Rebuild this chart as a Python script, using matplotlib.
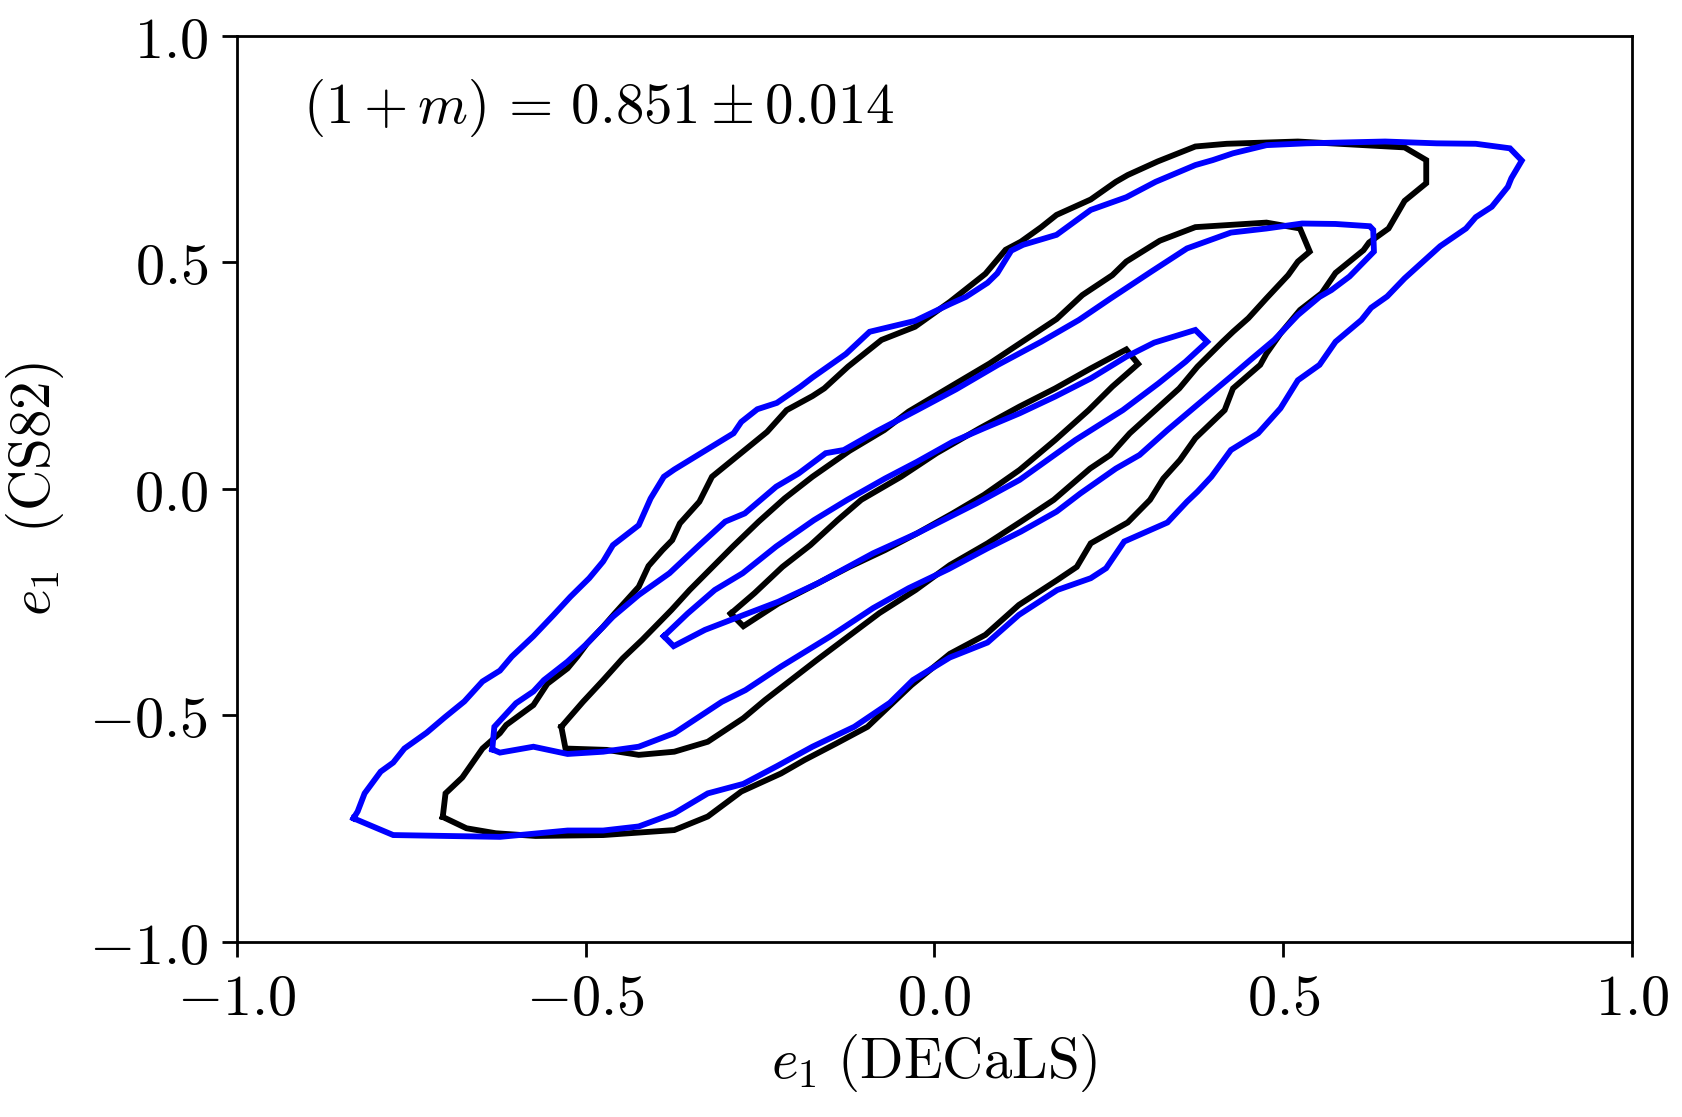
import matplotlib
matplotlib.use("Agg")
import matplotlib.pyplot as plt
from matplotlib.ticker import FuncFormatter
import numpy as np

plt.rcParams['mathtext.fontset'] = 'cm'
plt.rcParams['font.family'] = ['DejaVu Serif']

# ---- contour lines (e1 DECaLS, e1 CS82) ----
black_outer_x = [-0.705, -0.701, -0.677, -0.648, -0.623, -0.614, -0.575, -0.555, -0.526, -0.512, -0.498, -0.475,
                 -0.458, -0.424, -0.410, -0.390, -0.376, -0.365, -0.337, -0.319, -0.240, -0.212, -0.175, -0.158,
                 -0.124, -0.076, -0.028, 0.022, 0.073, 0.102, 0.124, 0.153, 0.175, 0.224, 0.260, 0.277, 0.320,
                 0.374, 0.419, 0.521, 0.674, 0.705, 0.705, 0.674, 0.651, 0.623, 0.615, 0.575, 0.555, 0.524,
                 0.496, 0.476, 0.467, 0.428, 0.416, 0.374, 0.352, 0.328, 0.309, 0.277, 0.224, 0.204, 0.175,
                 0.121, 0.073, 0.022, -0.033, -0.096, -0.141, -0.186, -0.220, -0.277, -0.325, -0.373, -0.475,
                 -0.572, -0.629, -0.671, -0.705]
black_outer_y = [-0.724, -0.672, -0.637, -0.573, -0.539, -0.521, -0.477, -0.430, -0.396, -0.370, -0.341, -0.304,
                 -0.274, -0.216, -0.170, -0.135, -0.113, -0.076, -0.028, 0.027, 0.126, 0.174, 0.205, 0.222,
                 0.270, 0.329, 0.358, 0.413, 0.475, 0.528, 0.546, 0.578, 0.605, 0.639, 0.678, 0.693, 0.723,
                 0.756, 0.762, 0.767, 0.754, 0.726, 0.675, 0.636, 0.575, 0.544, 0.527, 0.477, 0.432, 0.395,
                 0.343, 0.299, 0.274, 0.222, 0.174, 0.112, 0.064, 0.023, -0.024, -0.074, -0.120, -0.172, -0.202,
                 -0.256, -0.322, -0.364, -0.433, -0.525, -0.562, -0.598, -0.628, -0.668, -0.723, -0.753, -0.764,
                 -0.766, -0.760, -0.749, -0.724]

black_mid_x = [-0.535, -0.504, -0.475, -0.447, -0.419, -0.377, -0.351, -0.289, -0.252, -0.215, -0.175, -0.122,
               -0.072, -0.037, 0.022, 0.079, 0.122, 0.175, 0.212, 0.255, 0.275, 0.323, 0.374, 0.476, 0.524,
               0.538, 0.521, 0.507, 0.476, 0.450, 0.428, 0.413, 0.377, 0.351, 0.280, 0.252, 0.223, 0.171,
               0.124, 0.076, 0.022, -0.027, -0.079, -0.124, -0.169, -0.206, -0.243, -0.274, -0.325, -0.373,
               -0.424, -0.470, -0.529, -0.535]
black_mid_y = [-0.525, -0.470, -0.422, -0.374, -0.333, -0.267, -0.223, -0.127, -0.072, -0.021, 0.027, 0.084,
               0.130, 0.171, 0.225, 0.277, 0.321, 0.375, 0.428, 0.472, 0.502, 0.548, 0.578, 0.588, 0.575,
               0.524, 0.502, 0.472, 0.421, 0.377, 0.347, 0.325, 0.270, 0.222, 0.123, 0.075, 0.045, -0.024,
               -0.072, -0.120, -0.168, -0.223, -0.274, -0.326, -0.378, -0.422, -0.466, -0.506, -0.558, -0.580,
               -0.587, -0.576, -0.573, -0.525]

black_in_x = [-0.292, -0.258, -0.218, -0.178, -0.139, -0.105, -0.048, 0.003, 0.065, 0.122, 0.173, 0.224, 0.275,
              0.292, 0.255, 0.221, 0.173, 0.122, 0.071, 0.026, -0.025, -0.071, -0.122, -0.167, -0.224, -0.274,
              -0.292]
black_in_y = [-0.275, -0.230, -0.172, -0.124, -0.069, -0.024, 0.027, 0.079, 0.134, 0.182, 0.222, 0.266, 0.308,
              0.276, 0.226, 0.174, 0.108, 0.042, -0.013, -0.054, -0.098, -0.135, -0.172, -0.208, -0.253, -0.303,
              -0.275]

blue_outer_x = [-0.833, -0.827, -0.817, -0.794, -0.776, -0.760, -0.728, -0.702, -0.674, -0.648, -0.623, -0.606,
                -0.575, -0.546, -0.522, -0.495, -0.475, -0.461, -0.424, -0.407, -0.388, -0.373, -0.339, -0.288,
                -0.277, -0.254, -0.226, -0.192, -0.175, -0.127, -0.093, -0.028, 0.022, 0.045, 0.076, 0.090,
                0.110, 0.127, 0.175, 0.224, 0.275, 0.317, 0.374, 0.399, 0.428, 0.476, 0.533, 0.646, 0.720,
                0.776, 0.825, 0.842, 0.827, 0.822, 0.799, 0.776, 0.762, 0.725, 0.674, 0.649, 0.626, 0.612,
                0.575, 0.552, 0.521, 0.496, 0.464, 0.425, 0.397, 0.377, 0.362, 0.334, 0.272, 0.246, 0.224,
                0.176, 0.121, 0.076, 0.022, -0.031, -0.064, -0.115, -0.175, -0.226, -0.274, -0.325, -0.373,
                -0.424, -0.475, -0.526, -0.623, -0.776, -0.833]
blue_outer_y = [-0.727, -0.712, -0.672, -0.624, -0.604, -0.573, -0.538, -0.504, -0.469, -0.425, -0.401, -0.370,
                -0.325, -0.278, -0.238, -0.197, -0.160, -0.124, -0.080, -0.021, 0.027, 0.043, 0.075, 0.123,
                0.148, 0.176, 0.190, 0.226, 0.246, 0.298, 0.347, 0.371, 0.408, 0.424, 0.455, 0.476,
                0.526, 0.539, 0.561, 0.616, 0.644, 0.678, 0.715, 0.726, 0.741, 0.759, 0.763, 0.767, 0.763,
                0.762, 0.752, 0.725, 0.686, 0.667, 0.623, 0.600, 0.575, 0.536, 0.465, 0.425, 0.400, 0.373,
                0.325, 0.274, 0.240, 0.178, 0.123, 0.086, 0.027, -0.006, -0.028, -0.074, -0.116, -0.175, -0.197,
                -0.223, -0.278, -0.339, -0.372, -0.422, -0.472, -0.525, -0.569, -0.612, -0.651, -0.672, -0.716,
                -0.745, -0.754, -0.754, -0.768, -0.764, -0.727]

blue_mid_x = [-0.634, -0.631, -0.600, -0.575, -0.560, -0.526, -0.498, -0.461, -0.424, -0.380, -0.337, -0.300,
              -0.272, -0.227, -0.195, -0.156, -0.130, -0.082, -0.025, 0.031, 0.091, 0.153, 0.207, 0.252, 0.311,
              0.362, 0.425, 0.476, 0.527, 0.575, 0.624, 0.629, 0.630, 0.609, 0.595, 0.569, 0.552, 0.521,
              0.487, 0.453, 0.425, 0.374, 0.334, 0.294, 0.260, 0.209, 0.175, 0.124, 0.076, 0.020, -0.037,
              -0.088, -0.150, -0.220, -0.271, -0.305, -0.373, -0.424, -0.475, -0.526, -0.575, -0.623, -0.634]
blue_mid_y = [-0.575, -0.525, -0.473, -0.447, -0.422, -0.381, -0.341, -0.282, -0.234, -0.186, -0.124, -0.072,
              -0.054, 0.005, 0.034, 0.079, 0.086, 0.128, 0.174, 0.220, 0.274, 0.325, 0.373, 0.420, 0.480,
              0.531, 0.566, 0.575, 0.586, 0.585, 0.580, 0.572, 0.524, 0.491, 0.469, 0.439, 0.424, 0.384,
              0.329, 0.285, 0.248, 0.182, 0.130, 0.075, 0.045, -0.010, -0.050, -0.094, -0.131, -0.177, -0.219,
              -0.263, -0.326, -0.392, -0.444, -0.470, -0.539, -0.569, -0.580, -0.585, -0.569, -0.582, -0.575]

blue_in_x = [-0.388, -0.354, -0.315, -0.275, -0.227, -0.173, -0.125, -0.071, -0.025, 0.026, 0.071, 0.122, 0.173,
             0.224, 0.275, 0.315, 0.374, 0.391, 0.360, 0.321, 0.270, 0.202, 0.122, 0.060, -0.025, -0.088,
             -0.167, -0.224, -0.275, -0.329, -0.374, -0.388]
blue_in_y = [-0.325, -0.275, -0.223, -0.186, -0.127, -0.069, -0.024, 0.023, 0.060, 0.104, 0.134, 0.167, 0.204,
             0.244, 0.292, 0.323, 0.351, 0.325, 0.281, 0.233, 0.174, 0.108, 0.020, -0.032, -0.098, -0.142,
             -0.208, -0.249, -0.279, -0.311, -0.347, -0.325]

annotation = r'$(1+m)\,=\,0.851\pm0.014$'
ticks = [-1.0, -0.5, 0.0, 0.5, 1.0]

fig = plt.figure(figsize=(8.415, 5.585), dpi=200)
ax = fig.add_axes([0.1408, 0.1567, 0.8289, 0.8111])

lw = 2.1
for xs, ys in [(black_outer_x, black_outer_y), (black_mid_x, black_mid_y), (black_in_x, black_in_y)]:
    ax.plot(xs, ys, color='black', lw=lw, solid_joinstyle='miter')
for xs, ys in [(blue_outer_x, blue_outer_y), (blue_mid_x, blue_mid_y), (blue_in_x, blue_in_y)]:
    ax.plot(xs, ys, color='#0000ff', lw=lw, solid_joinstyle='miter')

ax.set_xlim(-1, 1)
ax.set_ylim(-1, 1)
ax.set_xticks(ticks)
ax.set_yticks(ticks)
fmt = FuncFormatter(lambda v, p: r'$%.1f$' % v)
ax.xaxis.set_major_formatter(fmt)
ax.yaxis.set_major_formatter(fmt)
ax.tick_params(direction='out', length=5.4, width=1.0, labelsize=21, pad=5)
for s in ax.spines.values():
    s.set_linewidth(1.0)

ax.set_xlabel(r'$e_1\ \mathrm{(DECaLS)}$', fontsize=20.5, labelpad=2)
ax.set_ylabel(r'$e_1\ \ \mathrm{(CS82)}$', fontsize=20.5, labelpad=8)

ax.text(-0.905, 0.84, annotation, fontsize=20.5, va='center', ha='left')

fig.savefig('out.png', dpi=200)
